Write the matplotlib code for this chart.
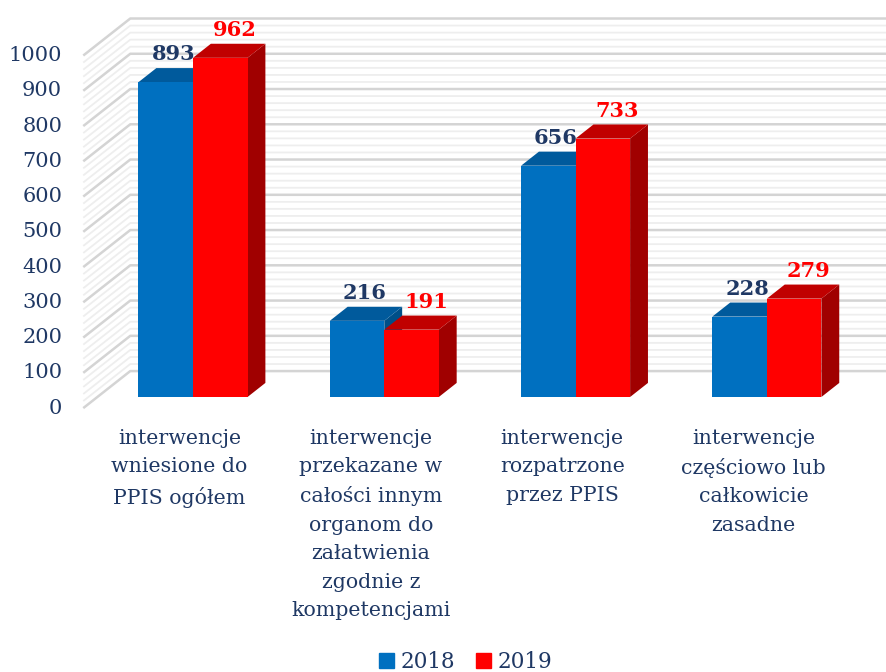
import numpy as np
import matplotlib
matplotlib.use("Agg")
import matplotlib.pyplot as plt
from matplotlib.patches import Polygon, Patch

# data
categories = ["interwencje\nwniesione do\nPPIS ogółem",
              "interwencje\nprzekazane w\ncałości innym\norganom do\nzałatwienia\nzgodnie z\nkompetencjami",
              "interwencje\nrozpatrzone\nprzez PPIS",
              "interwencje\nczęściowo lub\ncałkowicie\nzasadne"]
v2018 = [893, 216, 656, 228]
v2019 = [962, 191, 733, 279]
series_names = ["2018", "2019"]
yticks = list(range(0, 1001, 100))

navy = "#1F3864"
blue, blue_top, blue_side = "#0070C0", "#005A9C", "#004F88"
red, red_top, red_side = "#FF0000", "#C00000", "#A00000"
font = "DejaVu Serif"

fig = plt.figure(figsize=(8.87, 6.72), dpi=100)
ax = fig.add_axes([0, 0, 1, 1])
ax.set_xlim(-1.009, 3.628)
ax.set_ylim(-780, 1126)
ax.axis("off")

# fake 3d: depth vector of the whole floor, bars sit at 0.3 .. 0.68 of it
DX, DY = 0.2457, 105
D0, BD = 0.3, 0.38


def P(x, v, d):
    return x + (d - D0) * DX, v + (d - D0) * DY


# walls with major / minor gridlines
for g in range(0, 1001, 20):
    major = g % 100 == 0
    pts = [P(-0.5, g, 0), P(-0.5, g, 1), P(3.6, g, 1)]
    xs, ys = zip(*pts)
    ax.plot(xs, ys, color="#D4D4D4" if major else "#EEEEEE",
            lw=1.8 if major else 1.3, zorder=1, solid_capstyle="butt")

for g in yticks:
    x, y = P(-0.5, g, 0)
    ax.text(x - 0.11, y, str(g), ha="right", va="center", fontsize=15,
            color=navy, family=font)

w = 0.285
x = np.arange(len(categories))


def bar3d(x0, v, front, top, side, z):
    x1 = x0 + w
    dx, dy = BD * DX, BD * DY
    ax.add_patch(Polygon([(x1, 0), (x1 + dx, dy), (x1 + dx, v + dy), (x1, v)],
                         closed=True, fc=side, ec="none", zorder=z))
    ax.add_patch(Polygon([(x0, v), (x1, v), (x1 + dx, v + dy), (x0 + dx, v + dy)],
                         closed=True, fc=top, ec="none", zorder=z))


for i in range(len(categories)):
    bar3d(x[i] - w, v2018[i], blue, blue_top, blue_side, 3)
    ax.bar(x[i] - w / 2, v2018[i], width=w, color=blue, zorder=4)
    bar3d(x[i], v2019[i], red, red_top, red_side, 5)
    ax.bar(x[i] + w / 2, v2019[i], width=w, color=red, zorder=6)

    ax.text(x[i] - w / 2 + 0.04, v2018[i] + BD * DY + 22, str(v2018[i]),
            ha="center", va="baseline", fontsize=15, fontweight="bold",
            color=navy, family=font, zorder=8)
    ax.text(x[i] + w / 2 + 0.075, v2019[i] + BD * DY + 22, str(v2019[i]),
            ha="center", va="baseline", fontsize=15, fontweight="bold",
            color=red, family=font, zorder=8)

    ax.text(x[i] - 0.07, -90, categories[i], ha="center", va="top",
            fontsize=14.8, color=navy, family=font, linespacing=1.63)

handles = [Patch(color=blue, label=series_names[0]),
           Patch(color=red, label=series_names[1])]
leg = fig.legend(handles=handles, loc="lower center", ncol=2, frameon=False,
                 bbox_to_anchor=(0.525, -0.03), handlelength=0.7, handleheight=0.7,
                 handletextpad=0.3, columnspacing=1.0,
                 prop={"family": font, "size": 15.5})
for t in leg.get_texts():
    t.set_color(navy)

fig.savefig("out.png", dpi=100)
